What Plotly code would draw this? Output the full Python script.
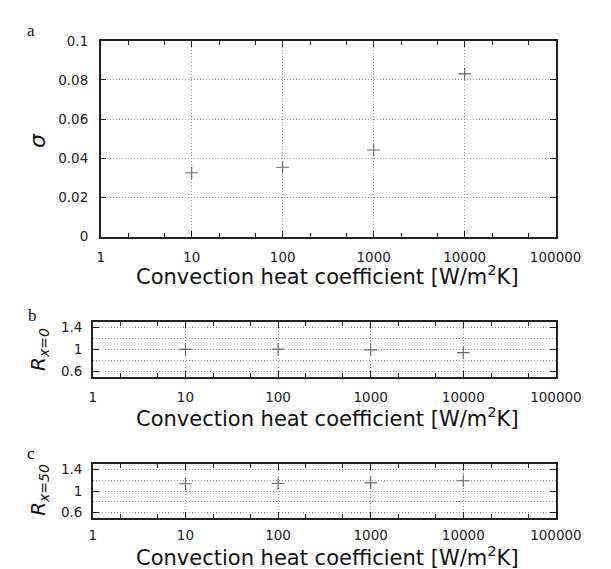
import plotly.graph_objects as go

# Data
h = [10, 100, 1000, 10000]
sigma = [0.0326, 0.0354, 0.0442, 0.0831]
r_x0 = [1.0, 1.005, 0.99, 0.94]
r_x50 = [1.135, 1.14, 1.15, 1.19]

x_tickvals = [1, 10, 100, 1000, 10000, 100000]
x_ticktext = ["1", "10", "100", "1000", "10000", "100000"]
x_minor = [2, 5, 20, 50, 200, 500, 2000, 5000, 20000, 50000]
sigma_ticks = [0, 0.02, 0.04, 0.06, 0.08, 0.1]
sigma_text = ["0", "0.02", "0.04", "0.06", "0.08", "0.1"]
r_ticks = [0.6, 1.0, 1.4]
r_text = ["0.6", "1", "1.4"]
r_minor = [0.8, 1.2]

W, H = 611, 569

def fx(px):
    return px / W

def fy(py):
    return 1 - py / H

fig = go.Figure()
marker = dict(symbol="cross-thin", size=9, line=dict(width=1.1, color="#666666"), color="#666666")
fig.add_trace(go.Scatter(x=h, y=sigma, mode="markers", marker=marker, xaxis="x", yaxis="y", showlegend=False))
fig.add_trace(go.Scatter(x=h, y=r_x0, mode="markers", marker=marker, xaxis="x2", yaxis="y2", showlegend=False))
fig.add_trace(go.Scatter(x=h, y=r_x50, mode="markers", marker=marker, xaxis="x3", yaxis="y3", showlegend=False))

tickfont = dict(family="DejaVu Sans", size=13.5, color="#222222")
GRIDC = "#9a9a9a"
DASH = "1px,2px"
grid = dict(showgrid=True, gridcolor=GRIDC, griddash=DASH, gridwidth=1)
frame = dict(showline=True, linecolor="#222222", linewidth=1.5, mirror="ticks", zeroline=False,
             ticks="inside", tickcolor="#222222", tickwidth=1.2, ticklen=6, tickfont=tickfont)

def xaxis(domain, anchor, standoff):
    return dict(domain=domain, anchor=anchor, type="log", range=[0, 5],
                tickvals=x_tickvals, ticktext=x_ticktext, ticklabelstandoff=standoff,
                minor=dict(tickvals=x_minor, ticks="inside", ticklen=4, tickcolor="#222222",
                           tickwidth=1.2, showgrid=False),
                **grid, **frame)

xa_dom = [fx(93.3), fx(571.7)]
xbc_dom = [fx(85), fx(572)]

fig.update_layout(
    width=W, height=H,
    margin=dict(l=0, r=0, t=0, b=0),
    paper_bgcolor="white", plot_bgcolor="white",
    xaxis=xaxis(xa_dom, "y", 7),
    xaxis2=xaxis(xbc_dom, "y2", 7),
    xaxis3=xaxis(xbc_dom, "y3", 4),
    yaxis=dict(domain=[fy(227), fy(25.5)], anchor="x", range=[0, 0.1],
               tickvals=sigma_ticks, ticktext=sigma_text, ticklabelstandoff=8, **grid, **frame),
    yaxis2=dict(domain=[fy(371), fy(315)], anchor="x2", range=[0.5, 1.5],
                tickvals=r_ticks, ticktext=r_text, ticklabelstandoff=6,
                minor=dict(tickvals=r_minor, showgrid=True, gridcolor=GRIDC, griddash=DASH, ticks=""),
                **grid, **frame),
    yaxis3=dict(domain=[fy(516.5), fy(461)], anchor="x3", range=[0.5, 1.5],
                tickvals=r_ticks, ticktext=r_text, ticklabelstandoff=6,
                minor=dict(tickvals=r_minor, showgrid=True, gridcolor=GRIDC, griddash=DASH, ticks=""),
                **grid, **frame),
)

xtitle = "Convection heat coefficient [W/m<sup>2</sup>K]"
titlefont = dict(family="DejaVu Sans", size=21, color="#111111")
ann = []
for xc, yc in [(332, 267), (332, 413), (332, 555.5)]:
    ann.append(dict(text=xtitle, x=fx(xc), y=fy(yc), xref="paper", yref="paper",
                    showarrow=False, font=titlefont, xanchor="center", yanchor="middle"))
ann.append(dict(text="<i>σ</i>", x=fx(27), y=fy(128), xref="paper", yref="paper", showarrow=False,
                font=dict(family="DejaVu Sans", size=22, color="#111111"), textangle=-90,
                xanchor="center", yanchor="middle"))
ann.append(dict(text="<i>R<sub>x=0</sub></i>", x=fx(29), y=fy(343), xref="paper", yref="paper", showarrow=False,
                font=dict(family="DejaVu Sans", size=20, color="#111111"), textangle=-90,
                xanchor="center", yanchor="middle"))
ann.append(dict(text="<i>R<sub>x=50</sub></i>", x=fx(29), y=fy(488), xref="paper", yref="paper", showarrow=False,
                font=dict(family="DejaVu Sans", size=20, color="#111111"), textangle=-90,
                xanchor="center", yanchor="middle"))
for lab, xc, yc in [("a", 20, 15), ("b", 21.5, 308), ("c", 20, 450)]:
    ann.append(dict(text=lab, x=fx(xc), y=fy(yc), xref="paper", yref="paper", showarrow=False,
                    font=dict(family="Liberation Serif", size=17, color="#111111"),
                    xanchor="center", yanchor="middle"))
fig.update_layout(annotations=ann)

fig.write_html("out.html")
